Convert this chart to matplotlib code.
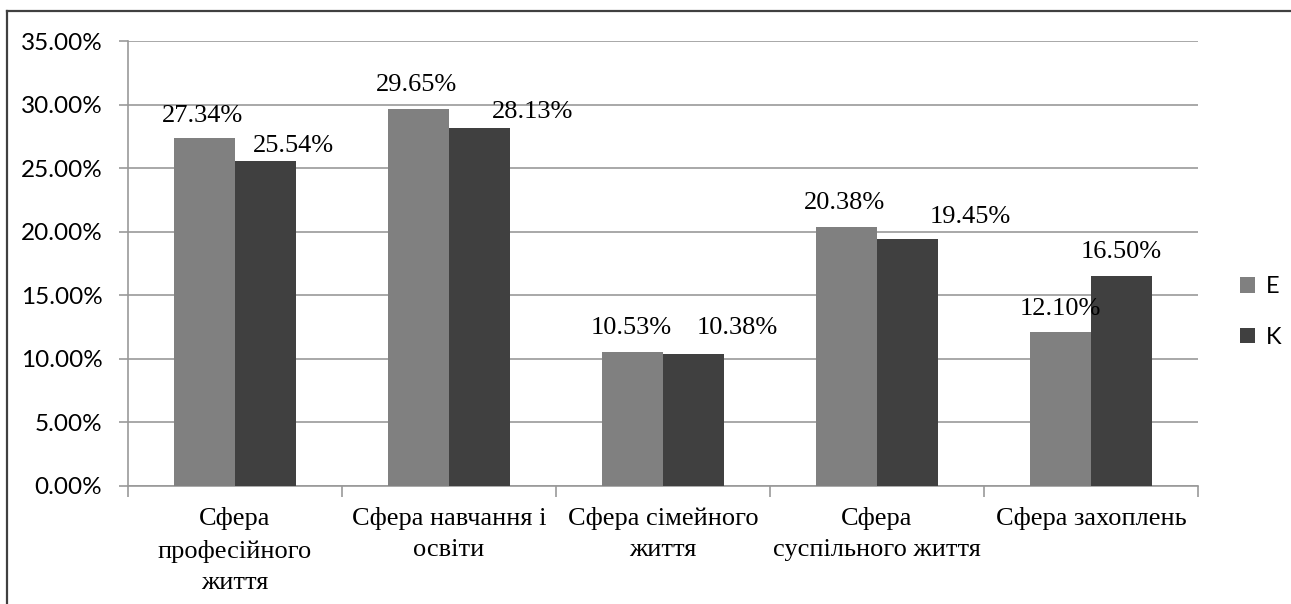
import matplotlib
matplotlib.use("Agg")
import matplotlib.pyplot as plt
import numpy as np
from matplotlib.patches import Patch
from matplotlib.lines import Line2D
from matplotlib.ticker import FixedLocator, FuncFormatter

categories = ["Сфера\nпрофесійного\nжиття", "Сфера навчання і\nосвіти",
              "Сфера сімейного\nжиття", "Сфера\nсуспільного життя", "Сфера захоплень"]
series_names = ["E", "K"]
values_e = [27.34, 29.65, 10.53, 20.38, 12.10]
values_k = [25.54, 28.13, 10.38, 19.45, 16.50]
yticks = [0, 5, 10, 15, 20, 25, 30, 35]

# manual label offsets (pixels, dx right, dy up from bar top to text baseline)
label_off_e = [(-2, 16), (-1.5, 18), (-1, 18), (-1.5, 18), (-0.5, 17)]
label_off_k = [(28, 9), (53, 10), (44, 20), (62.5, 16), (0, 18)]

W, H = 1291, 604
fig = plt.figure(figsize=(W / 100, H / 100), dpi=100)
ax = fig.add_axes([128 / W, 1 - 486 / H, (1198 - 128) / W, (486 - 41) / H])

col_e = "#808080"
col_k = "#404040"
grid_col = "#999999"

n = len(categories)
x = np.arange(n)
bw = 1 / 3.5
ax.bar(x - bw / 2, values_e, bw, color=col_e, zorder=3)
ax.bar(x + bw / 2, values_k, bw, color=col_k, zorder=3)

serif = "Liberation Serif"
px2pt = 72 / 100
for xs, vals, offs in ((x - bw / 2, values_e, label_off_e), (x + bw / 2, values_k, label_off_k)):
    for xi, v, (dx, dy) in zip(xs, vals, offs):
        ax.annotate(f"{v:.2f}%", (xi, v), xytext=(dx * px2pt, dy * px2pt),
                    textcoords="offset points", ha="center", va="baseline",
                    fontsize=19, family=serif, color="#000000", zorder=4)

ax.set_xlim(-0.5, n - 0.5)
ax.set_ylim(0, 35)
ax.set_yticks(yticks)
ax.yaxis.set_major_formatter(FuncFormatter(lambda v, p: f"{v:.2f}%"))
ax.yaxis.grid(True, color=grid_col, linewidth=1.2, zorder=0)
ax.tick_params(axis="y", length=6.5, width=1.2, color=grid_col, pad=12,
               labelsize=17.5, labelcolor="#000000")
for t in ax.get_yticklabels():
    t.set_family("Lato")

ax.xaxis.set_major_locator(FixedLocator(np.arange(-0.5, n, 1.0)))
ax.xaxis.set_major_formatter(FuncFormatter(lambda v, p: ""))
ax.xaxis.set_minor_locator(FixedLocator(x))
ax.set_xticklabels(categories, minor=True)
ax.tick_params(axis="x", which="major", length=8, width=1.2, color=grid_col)
ax.tick_params(axis="x", which="minor", length=0, pad=15, labelsize=19)
for t in ax.get_xticklabels(minor=True):
    t.set_family(serif)
    t.set_linespacing(1.55)
    t.set_verticalalignment("top")

for s in ["top", "right"]:
    ax.spines[s].set_visible(False)
for s in ["left", "bottom"]:
    ax.spines[s].set_color(grid_col)
    ax.spines[s].set_linewidth(1.2)

handles = [Patch(facecolor=col_e, edgecolor="none", label=series_names[0]),
           Patch(facecolor=col_k, edgecolor="none", label=series_names[1])]
fig.legend(handles=handles, loc="center left", bbox_to_anchor=(1240 / W, 1 - 312 / H),
           frameon=False, prop={"family": "Lato", "size": 17},
           handlelength=0.65, handleheight=0.65, handletextpad=0.45, labelspacing=1.25,
           borderpad=0, borderaxespad=0)

# outer chart border
fig.add_artist(Line2D([7 / W, 7 / W], [0, 1 - 11 / H], transform=fig.transFigure,
                      color="#404040", linewidth=1.6))
fig.add_artist(Line2D([7 / W, 1], [1 - 11 / H, 1 - 11 / H], transform=fig.transFigure,
                      color="#404040", linewidth=1.6))

fig.savefig("out.png", dpi=100, facecolor="white")
